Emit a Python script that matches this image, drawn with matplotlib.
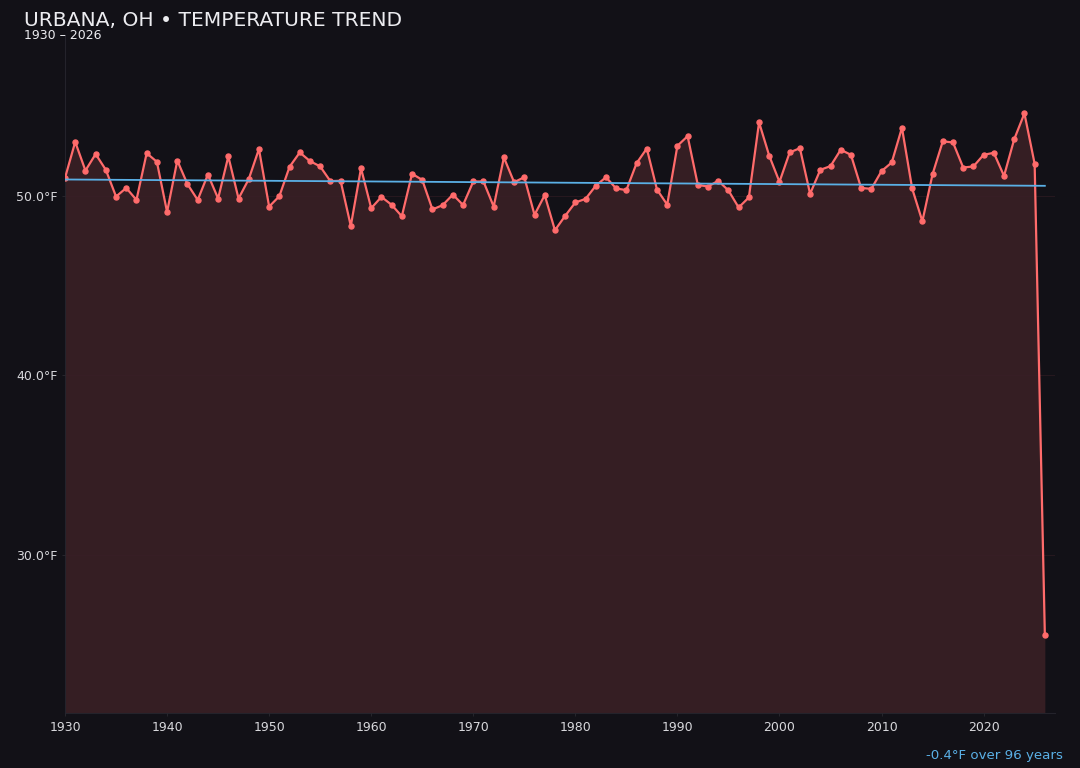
import numpy as np
import matplotlib
matplotlib.use("Agg")
import matplotlib.pyplot as plt

years = list(range(1930, 2027))
temps = [
    51.02, 53.03, 51.43, 52.35, 51.47, 49.98, 50.46, 49.79, 52.40, 51.92,  # 1930-1939
    49.12, 51.99, 50.67, 49.79, 51.21, 49.87, 52.22, 49.87, 50.95, 52.63,  # 1940-1949
    49.42, 50.00, 51.64, 52.44, 51.96, 51.66, 50.84, 50.86, 48.34, 51.56,  # 1950-1959
    49.33, 49.96, 49.52, 48.88, 51.25, 50.91, 49.26, 49.50, 50.09, 49.51,  # 1960-1969
    50.82, 50.82, 49.42, 52.16, 50.78, 51.06, 48.96, 50.06, 48.10, 48.90,  # 1970-1979
    49.65, 49.85, 50.58, 51.06, 50.43, 50.34, 51.84, 52.66, 50.37, 49.53,  # 1980-1989
    52.81, 53.35, 50.63, 50.54, 50.86, 50.32, 49.37, 49.93, 54.12, 52.25,  # 1990-1999
    50.80, 52.44, 52.68, 50.13, 51.47, 51.68, 52.59, 52.31, 50.46, 50.41,  # 2000-2009
    51.40, 51.88, 53.82, 50.43, 48.60, 51.23, 53.06, 53.00, 51.60, 51.66,  # 2010-2019
    52.31, 52.42, 51.13, 53.18, 54.62, 51.81, 25.53,                        # 2020-2026
]
yticks = [30, 40, 50]
xticks = [1930, 1940, 1950, 1960, 1970, 1980, 1990, 2000, 2010, 2020]

BG = "#121117"
LINE = "#ff6b6b"
TREND = "#5ab0e6"
TEXT = "#ececf0"

x = np.array(years, dtype=float)
y = np.array(temps)
slope, intercept = np.polyfit(x, y, 1)
trend = slope * x + intercept
change = trend[-1] - trend[0]

fig = plt.figure(figsize=(10.8, 7.68), dpi=100, facecolor=BG)
ax = fig.add_axes([0.0602, 0.0716, 0.9167, 0.8826])
ax.set_facecolor(BG)

rng = y.max() - y.min()
ymin = y.min() - 0.15 * rng
ymax = y.max() + 0.15 * rng
ax.set_ylim(ymin, ymax)
ax.set_xlim(1930, 2027)

ax.fill_between(x, y, ymin, color=LINE, alpha=0.15, linewidth=0, zorder=1)
ax.plot(x, y, color=LINE, linewidth=1.6, marker="o", markersize=3.6, zorder=3)
ax.plot(x, trend, color=TREND, linewidth=1.3, zorder=4)

ax.set_yticks(yticks)
ax.set_yticklabels([f"{v:.1f}°F" for v in yticks])
ax.set_xticks(xticks)
ax.set_xticklabels([str(v) for v in xticks])
ax.tick_params(colors="#d8d8dc", labelsize=9, length=2, width=0.6, pad=3.5)
ax.tick_params(axis="both", color="#2a2930")
ax.grid(axis="y", color="#3a1f28", linewidth=0.6, alpha=0.6)
ax.set_axisbelow(False)
for s in ["top", "right"]:
    ax.spines[s].set_visible(False)
for s in ["left", "bottom"]:
    ax.spines[s].set_color("#24232b")
    ax.spines[s].set_linewidth(0.8)

fig.text(24 / 1080, 1 - 20.5 / 768, "URBANA, OH • TEMPERATURE TREND", color=TEXT,
         fontsize=14.6, va="center", ha="left")
fig.text(24 / 1080, 1 - 35.5 / 768, "1930 – 2026", color=TEXT,
         fontsize=9, va="center", ha="left")
fig.text(1063 / 1080, 1 - 755 / 768, f"{change:.1f}°F over {years[-1] - years[0]} years",
         color=TREND, fontsize=9.6, va="center", ha="right")

fig.savefig("out.png", dpi=100, facecolor=BG)
